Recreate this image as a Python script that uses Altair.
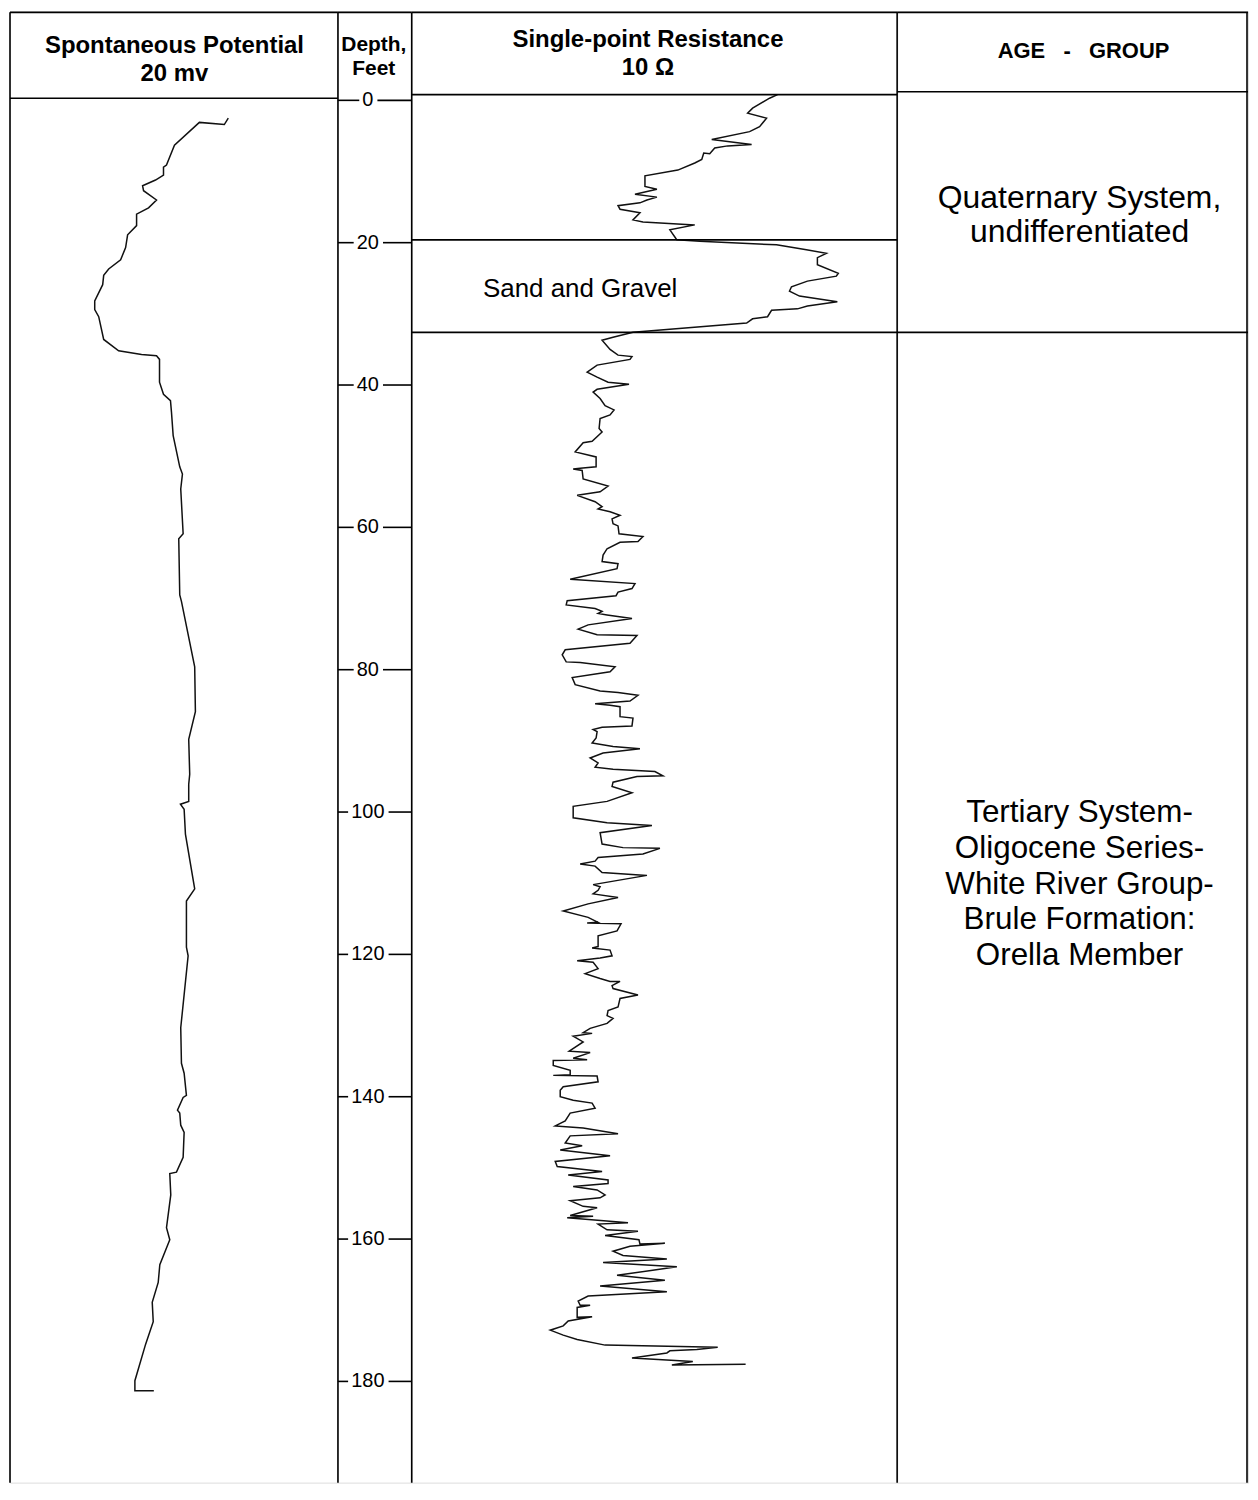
import altair as alt
import pandas as pd

# Spontaneous potential: depth (ft) and relative deflection (chart divisions)
sp_depth = [2.5, 3.4, 3.1, 6.3, 9.1, 9.4, 10.5, 11.2, 12.0, 12.7,
            14.0, 15.1, 16.0, 17.6, 18.9, 20.7, 22.4, 23.7, 24.6, 25.9,
            28.2, 29.4, 30.4, 33.6, 35.2, 35.7, 35.9, 36.4, 39.6, 41.3,
            42.2, 43.8, 47.1, 51.5, 52.5, 54.6, 60.9, 61.6, 69.5, 70.4,
            79.6, 85.9, 89.8, 94.7, 96.1, 98.5, 98.9, 99.6, 103.1, 110.8,
            112.5, 119.0, 120.2, 130.3, 135.3, 136.7, 139.8, 140.1, 141.9, 142.3,
            144.0, 145.0, 148.5, 150.6, 150.8, 153.8, 158.4, 160.1, 163.6, 166.1,
            168.9, 171.6, 174.8, 179.9, 181.3, 181.3]
sp_value = [219, 215, 190, 165, 157, 154, 154, 146, 133, 134,
            147, 139, 127, 127, 118, 116, 111, 99, 94, 93,
            85, 85, 89, 94, 109, 132, 147, 150, 150, 154,
            161, 162, 163.7, 170.3, 173, 171.3, 173.7, 169.3, 170.3, 172,
            185.3, 186, 179.3, 180.3, 179.3, 179.3, 171, 174.7, 176, 185.3,
            177, 177, 178.7, 171.3, 172, 174.7, 177, 173.7, 168, 170.3,
            171.3, 174.7, 173.7, 167, 160.3, 161.3, 157, 160.3, 150.3, 148.7,
            142.7, 143.7, 136, 125.3, 125.3, 144.3]

# Single-point resistance: (depth ft, relative deflection)
res_log = [
    (-0.8, 367), (-0.3, 359), (1.1, 342), (1.8, 337), (2.5, 356), (3.7, 349), (4.4, 339),
    (5.5, 301), (6.2, 341), (6.4, 317), (6.7, 304), (7.5, 299), (7.4, 293), (8.3, 291),
    (8.8, 284), (9.8, 267), (10.6, 234), (12.1, 234), (12.5, 246), (13.2, 224), (13.6, 246),
    (14.0, 236), (14.4, 229), (14.8, 207), (15.3, 209), (15.8, 229), (16.8, 222), (17.1, 232),
    (17.5, 284), (18.2, 259), (19.2, 264), (19.6, 266), (19.8, 289), (20.3, 366), (21.0, 396),
    (21.5, 416), (22.1, 407), (23.1, 407), (24.3, 428), (24.7, 426), (25.4, 397), (26.2, 381),
    (26.8, 379), (27.5, 389), (28.3, 427), (28.9, 397), (29.3, 387), (29.5, 361), (30.4, 357),
    (30.7, 342), (31.3, 336), (32.6, 222), (33.3, 202), (33.7, 191),
    (35.0, 199), (35.8, 207), (36.0, 221), (36.4, 219), (37.2, 186), (38.2, 176), (38.9, 186),
    (39.6, 197), (39.9, 218), (40.6, 186), (41.0, 182), (41.9, 189), (42.9, 194), (43.5, 203),
    (44.2, 199), (44.7, 189), (46.1, 188), (46.6, 191), (47.9, 181), (48.1, 172), (49.4, 164),
    (50.1, 185), (51.5, 185), (51.7, 169), (51.8, 162), (52.0, 171), (53.2, 172), (54.2, 197),
    (55.0, 189), (55.5, 166), (56.4, 184), (57.1, 191), (57.4, 187), (57.8, 199), (58.3, 209),
    (58.8, 201), (59.5, 202), (59.8, 207), (60.9, 208), (61.3, 232), (62.0, 227), (62.1, 209),
    (63.0, 196), (63.9, 192), (64.8, 191), (65.1, 207), (65.8, 206), (67.3, 159), (67.9, 224),
    (68.6, 221), (69.1, 207), (69.6, 205), (70.3, 156),
    (70.9, 155), (71.4, 184), (71.8, 191), (72.1, 187), (72.3, 196), (72.8, 221), (73.7, 177),
    (74.3, 167), (75.1, 186), (75.2, 226), (76.3, 219), (77.2, 154), (77.9, 151), (78.9, 155),
    (79.0, 169), (79.6, 204), (80.3, 199), (81.1, 161), (82.1, 164), (83.0, 189), (83.2, 207),
    (83.6, 227), (84.4, 219), (84.8, 184), (85.0, 199), (85.2, 209), (86.6, 209), (86.8, 222),
    (87.9, 221), (88.1, 191), (88.4, 182), (88.7, 186), (89.6, 185), (90.3, 181), (90.8, 202),
    (91.1, 229), (91.7, 192), (92.4, 179), (93.1, 187), (93.7, 184), (94.0, 202), (94.3, 244),
    (94.9, 252), (95.0, 226), (95.8, 202), (96.4, 201), (97.3, 221), (98.5, 196), (99.2, 162),
    (100.8, 162), (101.5, 196), (101.9, 241), (102.9, 189), (104.5, 191), (105.0, 212),
    (105.1, 249), (105.9, 232), (106.4, 187), (106.9, 184), (107.3, 169),
    (107.6, 184), (108.5, 191), (108.9, 236), (110.2, 182), (110.5, 189), (111.0, 187),
    (111.5, 182), (112.0, 207), (112.9, 177), (113.9, 152), (114.8, 177), (115.5, 187),
    (115.6, 176), (115.7, 210), (116.7, 206), (117.4, 187), (118.9, 187), (119.1, 181),
    (119.4, 199), (120.2, 201), (120.5, 189), (120.9, 166), (121.1, 182), (122.0, 187),
    (122.7, 174), (123.4, 189), (123.8, 199), (123.8, 209), (124.4, 201), (124.8, 202),
    (125.7, 227), (126.2, 209), (127.4, 207), (127.9, 197), (128.6, 196), (129.0, 202),
    (129.7, 196), (130.4, 179), (131.0, 172), (131.1, 181), (131.5, 162), (132.3, 172),
    (133.6, 158), (133.8, 179), (134.6, 162), (134.8, 176), (134.9, 142), (135.6, 142),
    (136.3, 159), (136.9, 159), (137.0, 142), (137.1, 186), (137.9, 187), (138.6, 152),
    (139.1, 149), (140.0, 149), (140.5, 162), (140.9, 181), (141.6, 184), (142.3, 159),
    (143.4, 154), (144.1, 144), (144.4, 172), (145.2, 207),
    (145.5, 159), (146.5, 154), (146.9, 171), (147.5, 149), (148.3, 199), (149.1, 144),
    (149.8, 146), (150.5, 191), (151.0, 157), (151.7, 197), (152.2, 197), (152.6, 162),
    (153.1, 186), (153.8, 194), (154.2, 189), (154.6, 159), (155.4, 172), (155.6, 186),
    (156.7, 159), (156.8, 182), (157.0, 156), (157.7, 217), (157.9, 187), (158.7, 196),
    (158.9, 227), (159.5, 194), (160.1, 228), (160.7, 229), (160.6, 254), (161.0, 219),
    (161.7, 202), (162.3, 212), (162.8, 256), (163.3, 192), (163.9, 266), (165.1, 206),
    (165.8, 254), (166.6, 189), (167.4, 256), (168.0, 177), (168.7, 167), (169.3, 169),
    (169.3, 179), (169.6, 166), (171.0, 166), (170.9, 181), (171.5, 157), (172.2, 152),
    (172.8, 139), (173.5, 152), (174.1, 166), (174.9, 194), (175.2, 307), (175.5, 286),
    (175.7, 259), (176.0, 256), (176.7, 221), (177.2, 282), (177.7, 261), (177.6, 335),
]

depth_ticks = [0, 20, 40, 60, 80, 100, 120, 140, 160, 180]
sand_top, sand_base = 19.6, 32.6

header_sp = ["Spontaneous Potential", "20 mv"]
header_depth = ["Depth,", "Feet"]
header_res = ["Single-point Resistance", "10 \u03a9"]
header_age = ["AGE\u00a0 \u00a0-\u00a0 \u00a0GROUP"]
quaternary_lines = ["Quaternary System,", "undifferentiated"]
tertiary_lines = ["Tertiary System-", "Oligocene Series-", "White River Group-",
                  "Brule Formation:", "Orella Member"]
lith_label = "Sand and Gravel"

# ---------------- layout ----------------
H = 1476
PX_PER_FT = 7.14
Y_TOP = -12.5
Y_BOT = Y_TOP + H / PX_PER_FT
W_SP, W_DEPTH, W_RES, W_AGE = 329, 74, 487, 352
FONT = "Liberation Sans"
LW = 1.6

yscale = alt.Scale(domain=[Y_TOP, Y_BOT], reverse=True, nice=False, zero=False)
one = pd.DataFrame({"k": [0]})


def vline(x):
    return alt.Chart(one).mark_rule(color="black", strokeWidth=LW).encode(
        x=alt.value(x), y=alt.value(1), y2=alt.value(H))


def topline(w):
    return alt.Chart(one).mark_rule(color="black", strokeWidth=LW).encode(
        x=alt.value(0), x2=alt.value(w), y=alt.value(1))


def hlines(depths, w):
    return alt.Chart(pd.DataFrame({"depth": depths})).mark_rule(
        color="black", strokeWidth=LW).encode(
        y=alt.Y("depth:Q", scale=yscale, axis=None),
        x=alt.value(0), x2=alt.value(w))


def texts(lines, x, y0, dy, size, bold):
    df = pd.DataFrame({"t": lines, "py": [y0 + i * dy for i in range(len(lines))]})
    return alt.Chart(df).mark_text(
        font=FONT, fontSize=size, fontWeight="bold" if bold else "normal",
        color="black", align="center", baseline="middle").encode(
        text="t:N", x=alt.value(x), y=alt.Y("py:Q", scale=None))


def curve(depths, values, domain_max):
    df = pd.DataFrame({"depth": depths, "value": values, "idx": range(len(depths))})
    return alt.Chart(df).mark_line(color="#111111", strokeWidth=1.5,
                                   strokeJoin="miter").encode(
        x=alt.X("value:Q", scale=alt.Scale(domain=[0, domain_max], nice=False, zero=True),
                axis=None),
        y=alt.Y("depth:Q", scale=yscale, axis=None),
        order=alt.Order("idx:Q"))


# Spontaneous potential panel
sp_panel = alt.layer(
    curve(sp_depth, sp_value, W_SP),
    vline(0), topline(W_SP), hlines([-0.3], W_SP),
    texts(header_sp, 165, 35, 28, 24, True),
).properties(width=W_SP, height=H)

# Depth panel
tick_df = pd.DataFrame({"depth": depth_ticks})
tick_base = alt.Chart(tick_df).transform_calculate(
    label="toString(datum.depth)",
    half="length(toString(datum.depth)) * 5.6",
    x0="0",
    xl="30 - datum.half - 3",
    xr="30 + datum.half + 4",
    x1=str(W_DEPTH),
)
tick_left = tick_base.mark_rule(color="black", strokeWidth=LW).encode(
    y=alt.Y("depth:Q", scale=yscale, axis=None),
    x=alt.X("x0:Q", scale=None), x2="xl:Q")
tick_right = tick_base.mark_rule(color="black", strokeWidth=LW).encode(
    y=alt.Y("depth:Q", scale=yscale, axis=None),
    x=alt.X("xr:Q", scale=None), x2="x1:Q")
tick_text = tick_base.mark_text(font=FONT, fontSize=20, color="black",
                                align="center", baseline="middle").encode(
    y=alt.Y("depth:Q", scale=yscale, axis=None),
    x=alt.value(30), text="label:N")
depth_panel = alt.layer(
    tick_left, tick_right, tick_text, vline(0), topline(W_DEPTH),
    texts(header_depth, 36, 34, 24, 21, True),
).properties(width=W_DEPTH, height=H)

# Resistance panel
res_panel = alt.layer(
    curve([d for d, _ in res_log], [v for _, v in res_log], W_RES),
    vline(0), topline(W_RES), hlines([-0.8, sand_top, sand_base], W_RES),
    texts(header_res, 237, 29, 28, 24, True),
    texts([lith_label], 169, 279, 0, 26, False),
).properties(width=W_RES, height=H)

# Age panel
age_panel = alt.layer(
    vline(0), vline(W_AGE - 1), topline(W_AGE), hlines([-1.2, sand_base], W_AGE),
    texts(header_age, 187, 40, 0, 22, True),
    texts(quaternary_lines, 183, 187, 34, 32, False),
    texts(tertiary_lines, 183, 804, 36, 31.5, False),
).properties(width=W_AGE, height=H)

chart = alt.hconcat(sp_panel, depth_panel, res_panel, age_panel,
                    spacing=0, padding=0, bounds="flush").configure_view(
    stroke=None).configure(background="white")

chart.save("out.html", embed_options={"renderer": "svg", "actions": False})
